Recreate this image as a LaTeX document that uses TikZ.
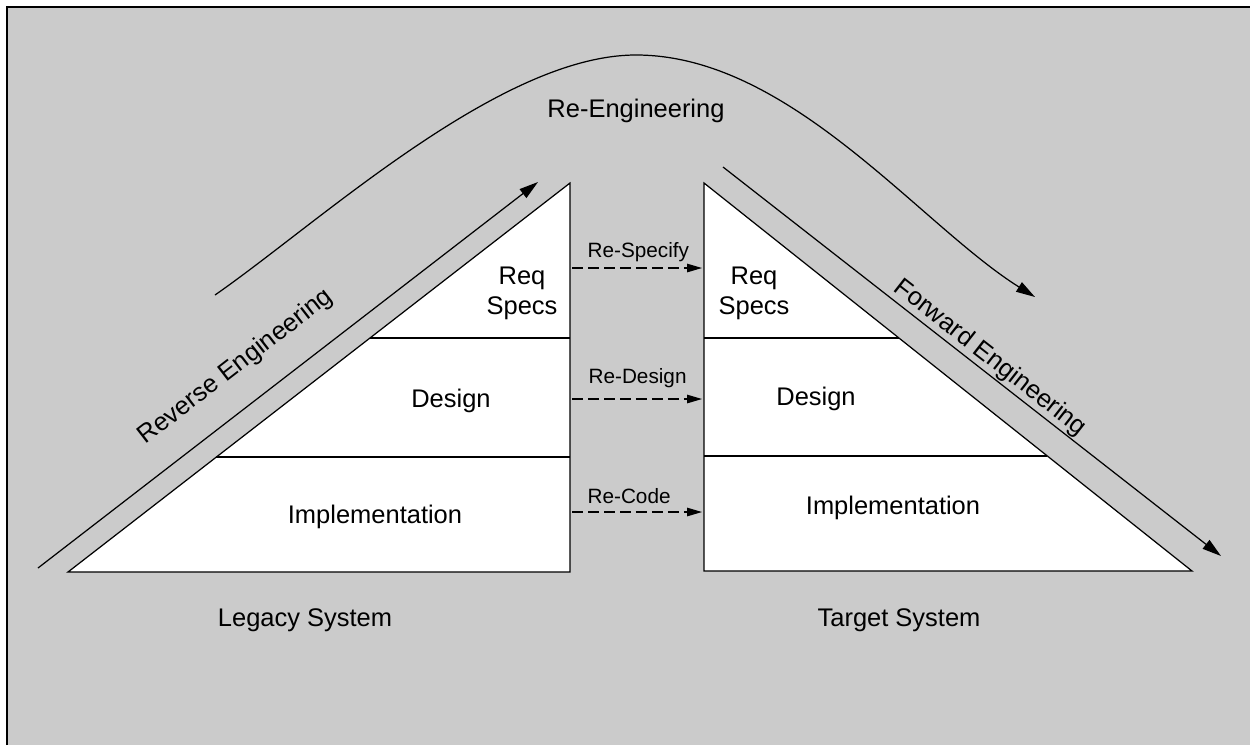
\documentclass[tikz,border=0pt]{standalone}
\usepackage{fontspec}
\setmainfont{Liberation Sans}
\usetikzlibrary{arrows.meta}
\definecolor{bg}{RGB}{203,203,203}
\begin{document}
\begin{tikzpicture}[x=0.02cm,y=-0.02cm,line width=0.7pt,
  lbl/.style={font=\fontsize{14.5}{17.5}\selectfont,inner sep=0pt},
  small/.style={font=\fontsize{11.8}{14}\selectfont,inner sep=0pt},
  bigtip/.style={-{Triangle[length=0.38cm,width=0.22cm]}},
  dasharrow/.style={-{Triangle[length=0.3cm,width=0.17cm]},dash pattern=on 0.22cm off 0.1cm},
  tri/.style={fill=white,draw=black}]
\useasboundingbox (0,0) rectangle (1250,745);
\fill[white] (0,0) rectangle (1250,745);
\fill[bg] (7,7) rectangle (1250,745);
\draw[line width=1.1pt] (7,745) -- (7,7) -- (1250,7);
% legacy triangle
\coordinate (L1) at (68,572); \coordinate (L2) at (570,572); \coordinate (L3) at (570,183);
\draw[tri] (L1) -- (L2) -- (L3) -- cycle;
\coordinate (La) at (370,338); \coordinate (Lb) at (570,338);
\coordinate (Lc) at (216,457); \coordinate (Ld) at (570,457);
\draw (La) -- (Lb); \draw (Lc) -- (Ld);
% target triangle
\coordinate (R1) at (704,183); \coordinate (R2) at (704,571); \coordinate (R3) at (1192,571);
\draw[tri] (R1) -- (R2) -- (R3) -- cycle;
\coordinate (Ra) at (704,338); \coordinate (Rb) at (899,338);
\coordinate (Rc) at (704,456); \coordinate (Rd) at (1047,456);
\draw (Ra) -- (Rb); \draw (Rc) -- (Rd);
% reverse / forward arrows
\coordinate (rs) at (38,568); \coordinate (re) at (538,182);
\draw[bigtip] (rs) -- (re);
\coordinate (fs) at (723,167); \coordinate (fe) at (1221,556);
\draw[bigtip] (fs) -- (fe);
% re-engineering curve
\coordinate (cs) at (215,295); \coordinate (ctop) at (636,55); \coordinate (ce) at (1035,297);
\draw[bigtip] (cs) .. controls (320,222) and (500,55) .. (ctop) .. controls (790,55) and (920,225) .. (ce);
% labels
\node[lbl,anchor=base] (reeng) at (636,117) {Re-Engineering};
\node[lbl,rotate=37.7] (rev) at (236,367) {Reverse Engineering};
\node[lbl,rotate=-38] (fwd) at (990,358) {Forward Engineering};
\node[lbl,align=center,anchor=north] (lreq) at (522,266) {Req\\Specs};
\node[lbl,align=center,anchor=north] (rreq) at (754,266) {Req\\Specs};
\node[lbl,anchor=base] (ldes) at (451,407) {Design};
\node[lbl,anchor=base] (rdes) at (816,405) {Design};
\node[lbl,anchor=base] (limp) at (375,523) {Implementation};
\node[lbl,anchor=base] (rimp) at (893,514) {Implementation};
\node[lbl,anchor=base] (leg) at (305,626) {Legacy System};
\node[lbl,anchor=base] (tgt) at (899,626) {Target System};
% re-* arrows
\node[small,anchor=base west] (rspec) at (587,257) {Re-Specify};
\node[small,anchor=base west] (rdesl) at (588,383) {Re-Design};
\node[small,anchor=base west] (rcode) at (587,503) {Re-Code};
\coordinate (s1) at (572,268); \coordinate (t1) at (702,268);
\coordinate (s2) at (572,399); \coordinate (t2) at (702,399);
\coordinate (s3) at (572,512); \coordinate (t3) at (702,512);
\draw[dasharrow] (s1) -- (t1);
\draw[dasharrow] (s2) -- (t2);
\draw[dasharrow] (s3) -- (t3);
\end{tikzpicture}
\end{document}
